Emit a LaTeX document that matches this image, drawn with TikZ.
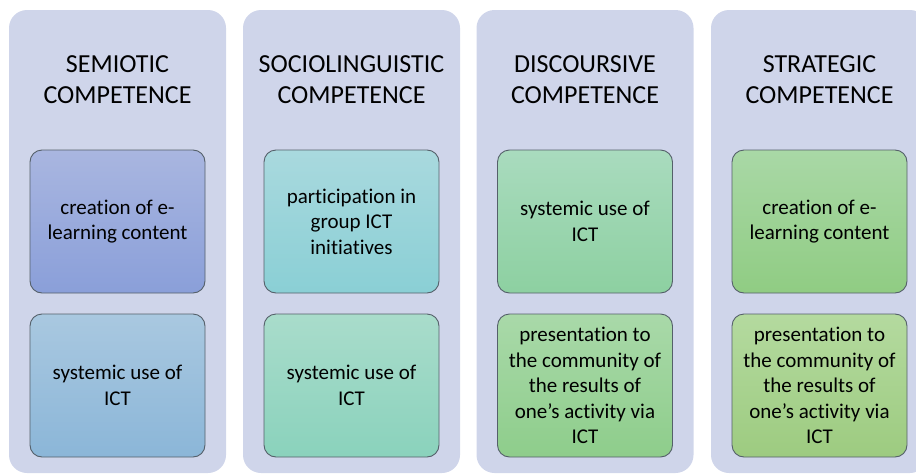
\documentclass[tikz,border=0pt]{standalone}
\usepackage{fontspec}
\setmainfont[Ligatures=NoCommon]{Carlito}

\definecolor{bgcol}{HTML}{CFD5EA}
\definecolor{boxline}{HTML}{55606A}
\definecolor{semA}{HTML}{A9B6E0}
\definecolor{semB}{HTML}{8A9FD9}
\definecolor{semC}{HTML}{A9C8E0}
\definecolor{semD}{HTML}{8BB6D8}
\definecolor{socA}{HTML}{A9D9DE}
\definecolor{socB}{HTML}{8ACFD5}
\definecolor{socC}{HTML}{A9DCCB}
\definecolor{socD}{HTML}{8AD2BC}
\definecolor{disA}{HTML}{A9DBBE}
\definecolor{disB}{HTML}{8DD0A1}
\definecolor{disC}{HTML}{A9D9A9}
\definecolor{disD}{HTML}{8ECD8B}
\definecolor{strA}{HTML}{A9D8A6}
\definecolor{strB}{HTML}{90CC83}
\definecolor{strC}{HTML}{B4DA9F}
\definecolor{strD}{HTML}{9DCB80}

\tikzset{
  colbg/.style={fill=bgcol, rounded corners=18pt, minimum width=217pt,
    minimum height=463pt, inner sep=0pt},
  head/.style={align=center, font=\fontsize{26}{31}\selectfont},
  item/.style={draw=boxline, line width=0.9pt, rounded corners=12pt,
    minimum width=175pt, minimum height=143pt, inner sep=0pt, align=center,
    font=\fontsize{21}{25.5}\selectfont}
}

\begin{document}
\begin{tikzpicture}[x=1pt,y=-1pt]
\clip (0,0) rectangle (916,474);
\foreach \i/\cx/\hd/\ta/\tb/\ca/\cb/\cc/\cd in {
  1/117.5/SEMIOTIC/{creation of e-\\learning content}/{systemic use of\\ICT}/semA/semB/semC/semD,
  2/351.5/SOCIOLINGUISTIC/{participation in\\group ICT\\initiatives}/{systemic use of\\ICT}/socA/socB/socC/socD,
  3/585/DISCOURSIVE/{systemic use of\\ICT}/{presentation to\\the community of\\the results of\\one’s activity via\\ICT}/disA/disB/disC/disD,
  4/819.5/STRATEGIC/{creation of e-\\learning content}/{presentation to\\the community of\\the results of\\one’s activity via\\ICT}/strA/strB/strC/strD}
{
  \node[colbg] (col\i) at (\cx,241.5) {};
  \node[head] (head\i) at (\cx,80) {\hd\\COMPETENCE};
  \node[item, top color=\ca, bottom color=\cb] (top\i) at (\cx,221.5) {\ta};
  \node[item, top color=\cc, bottom color=\cd] (bot\i) at (\cx,385.5) {\tb};
}
\end{tikzpicture}
\end{document}
